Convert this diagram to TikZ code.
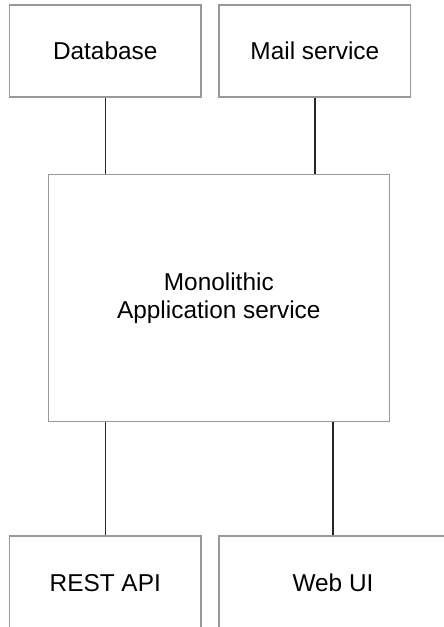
\documentclass[tikz,border=0pt]{standalone}
\usepackage{fontspec}
\setmainfont{Liberation Sans}
\tikzset{
  svcbox/.style={draw=black!40,line width=0.65pt,fill=white,inner sep=0pt,
    font=\fontsize{12.2}{14}\selectfont,align=center},
  link/.style={draw=black!85,line width=0.7pt}
}
\begin{document}
\begin{tikzpicture}[x=0.5pt,y=-0.5pt]
\useasboundingbox (0,0) rectangle (444,627);
\clip (0,0) rectangle (444,627);
\node[svcbox,minimum width=95.75pt,minimum height=46pt](db) at (105.25,51){Database};
\node[svcbox,minimum width=95.85pt,minimum height=46pt](mail) at (314.85,51){Mail service};
\node[svcbox,minimum width=170.5pt,minimum height=123.2pt](mono) at (218.8,298){Monolithic\\Application service};
\node[svcbox,minimum width=95.75pt,minimum height=47pt](rest) at (105.25,583){REST API};
\node[svcbox,minimum width=114pt,minimum height=47pt](web) at (333,583){Web UI};
\draw[link](db.south)--(db.south|-mono.north);
\draw[link](mail.south)--(mail.south|-mono.north);
\draw[link](rest.north)--(rest.north|-mono.south);
\draw[link](web.north)--(web.north|-mono.south);
\end{tikzpicture}
\end{document}
